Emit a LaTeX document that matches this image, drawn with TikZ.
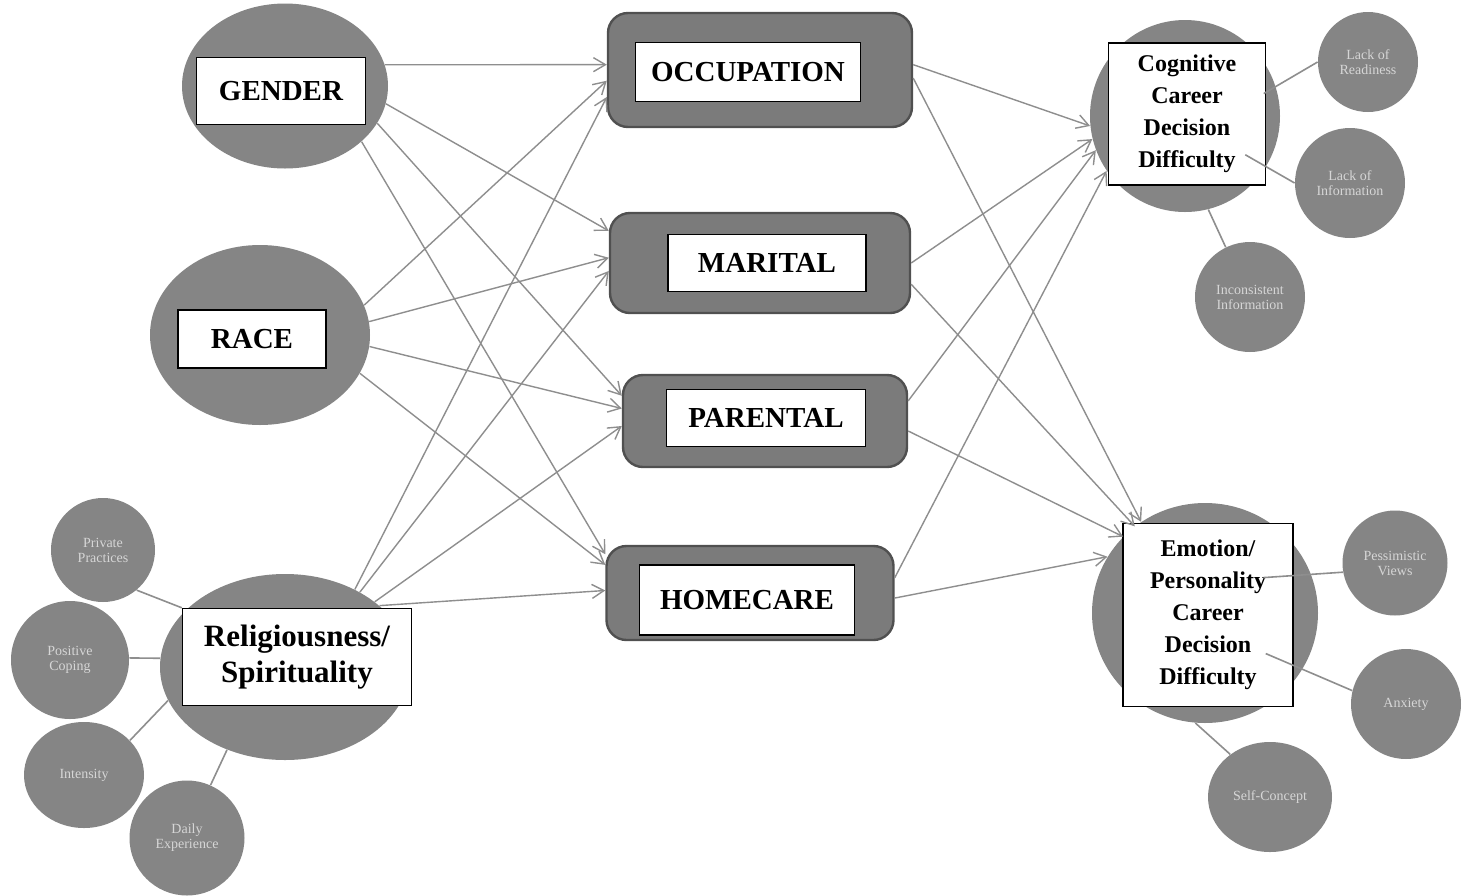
\documentclass[tikz,border=0pt]{standalone}
\usepackage{fontspec}
\setmainfont{Liberation Serif}
\usetikzlibrary{shapes.geometric,arrows.meta}

\definecolor{ovalgray}{HTML}{858585}
\definecolor{boxgray}{HTML}{7B7B7B}
\definecolor{edgegray}{HTML}{505050}
\definecolor{arrgray}{HTML}{8E8E8E}
\definecolor{smalltext}{HTML}{D6D6D6}

\tikzset{
  oval/.style={ellipse, fill=ovalgray, inner sep=0pt},
  tag/.style={draw=black, fill=white, line width=0.7pt, inner sep=0pt, align=center},
  mid/.style={rectangle, rounded corners=10pt, fill=boxgray, draw=edgegray, line width=1.2pt, inner sep=0pt},
  sub/.style={ellipse, fill=ovalgray, inner sep=0pt, text=smalltext, align=center, font=\fontsize{7}{7.5}\selectfont},
  arr/.style={draw=arrgray, line width=0.7pt, -{Straight Barb[length=6pt,width=7pt]}},
  link/.style={draw=arrgray, line width=0.8pt},
  capfont/.style={font=\fontsize{14.5}{17}\selectfont\bfseries},
  outfont/.style={font=\fontsize{12}{16}\selectfont\bfseries},
}

\begin{document}
\begin{tikzpicture}[x=0.5pt, y=-0.5pt]
    \fill[white] (0,0) rectangle (1464,894);

    % predictors
    \node[oval, minimum width=103pt, minimum height=82.5pt] (gender) at (285,86) {};
    \node[tag, capfont, minimum width=84.5pt, minimum height=33.5pt] (gendert) at (281,91) {GENDER};
    \node[oval, minimum width=110pt, minimum height=90pt] (race) at (260,335) {};
    \node[tag, capfont, minimum width=74pt, minimum height=29pt] (racet) at (252,339) {RACE};
    \node[oval, minimum width=125pt, minimum height=93pt] (rel) at (285,667) {};
    \node[tag, font=\fontsize{15.5}{18}\selectfont\bfseries, minimum width=114.5pt, minimum height=48.5pt] (relt) at (297,657) {Religiousness/\\Spirituality};

    % sub scales of religiousness
    \node[sub, minimum width=52pt, minimum height=52pt] (pp) at (103,550) {Private\\Practices};
    \node[sub, minimum width=59pt, minimum height=59pt] (pc) at (70,660) {Positive\\Coping};
    \node[sub, minimum width=60pt, minimum height=53pt] (intens) at (84,775) {Intensity};
    \node[sub, minimum width=57.5pt, minimum height=57.5pt] (de) at (187,838) {Daily\\Experience};

    % roles
    \node[mid, minimum width=152pt, minimum height=57pt] (occ) at (760,70) {};
    \node[tag, capfont, minimum width=112.5pt, minimum height=29.5pt] (occt) at (748,72) {OCCUPATION};
    \node[mid, minimum width=150pt, minimum height=50pt] (mar) at (760,263) {};
    \node[tag, capfont, minimum width=99pt, minimum height=28.5pt] (mart) at (767,263) {MARITAL};
    \node[mid, minimum width=142pt, minimum height=46pt] (par) at (765,421) {};
    \node[tag, capfont, minimum width=99.5pt, minimum height=28.5pt] (part) at (766,418) {PARENTAL};
    \node[mid, minimum width=143.5pt, minimum height=47pt] (home) at (750,593) {};
    \node[tag, capfont, minimum width=107.5pt, minimum height=35pt] (homet) at (747,600) {HOMECARE};

    % outcomes
    \node[oval, minimum width=95pt, minimum height=96pt] (cog) at (1185,116) {};
    \node[tag, outfont, minimum width=78.5pt, minimum height=71pt] (cogt) at (1187,114) {Cognitive\\Career\\Decision\\Difficulty};
    \node[oval, minimum width=113pt, minimum height=110pt] (emo) at (1205,613) {};
    \node[tag, outfont, minimum width=85pt, minimum height=91.5pt] (emot) at (1208,615) {Emotion/\\Personality\\Career\\Decision\\Difficulty};

    % sub scales of outcomes
    \node[sub, minimum width=50pt, minimum height=50pt] (lr) at (1368,62) {Lack of\\Readiness};
    \node[sub, minimum width=55pt, minimum height=55pt] (li) at (1350,183) {Lack of\\Information};
    \node[sub, minimum width=55pt, minimum height=55pt] (ii) at (1250,297) {Inconsistent\\Information};
    \node[sub, minimum width=52.5pt, minimum height=52.5pt] (pv) at (1395,563) {Pessimistic\\Views};
    \node[sub, minimum width=55pt, minimum height=55pt] (ax) at (1406,704) {Anxiety};
    \node[sub, minimum width=62pt, minimum height=55pt] (sc) at (1270,797) {Self-Concept};

    % predictors -> roles
    \draw[arr] (gender.12) -- (occ.178);
    \draw[arr] (gender.-10) -- (mar.168);
    \draw[arr] (gender.-22) -- (par.170);
    \draw[arr] (gender.-36) -- (home.165);
    \draw[arr] (race.16) -- (occ.184);
    \draw[arr] (race.7) -- (mar.178);
    \draw[arr] (race.-6) -- (par.175);
    \draw[arr] (race.-21) -- (home.169);
    \draw[arr] (rel.48) -- (occ.190);
    \draw[arr] (rel.45) -- (mar.183);
    \draw[arr] (rel.36) -- (par.182);
    \draw[arr] (rel.33) -- (home.179);

    % roles -> outcomes
    \draw[arr] (occ.2) -- (cog.186);
    \draw[arr] (occ.-3) -- (emo.125);
    \draw[arr] (mar.0) -- (cog.194);
    \draw[arr] (mar.-8) -- (emo.129);
    \draw[arr] (par.8) -- (cog.201);
    \draw[arr] (par.-4) -- (emo.137);
    \draw[arr] (home.6) -- (cog.215);
    \draw[arr] (home.-2) -- (emo.150);

    % sub scale links
    \draw[link] (pp.310) -- (relt.north west);
    \draw[link] (pc.2) -- (rel.176);
    \draw[link] (intens.37) -- (rel.196);
    \draw[link] (de.66) -- (rel.235);
    \draw[link, shorten >=-7pt] (lr.180) -- (cog.18);
    \draw[link, shorten >=-12pt] (li.180) -- (cog.-32);
    \draw[link] (ii.116) -- (cog.284);
    \draw[link, shorten >=-24pt] (pv.190) -- (emo.20);
    \draw[link, shorten >=-20pt] (ax.166) -- (emo.-30);
    \draw[link] (sc.133) -- (emo.265);
\end{tikzpicture}
\end{document}
